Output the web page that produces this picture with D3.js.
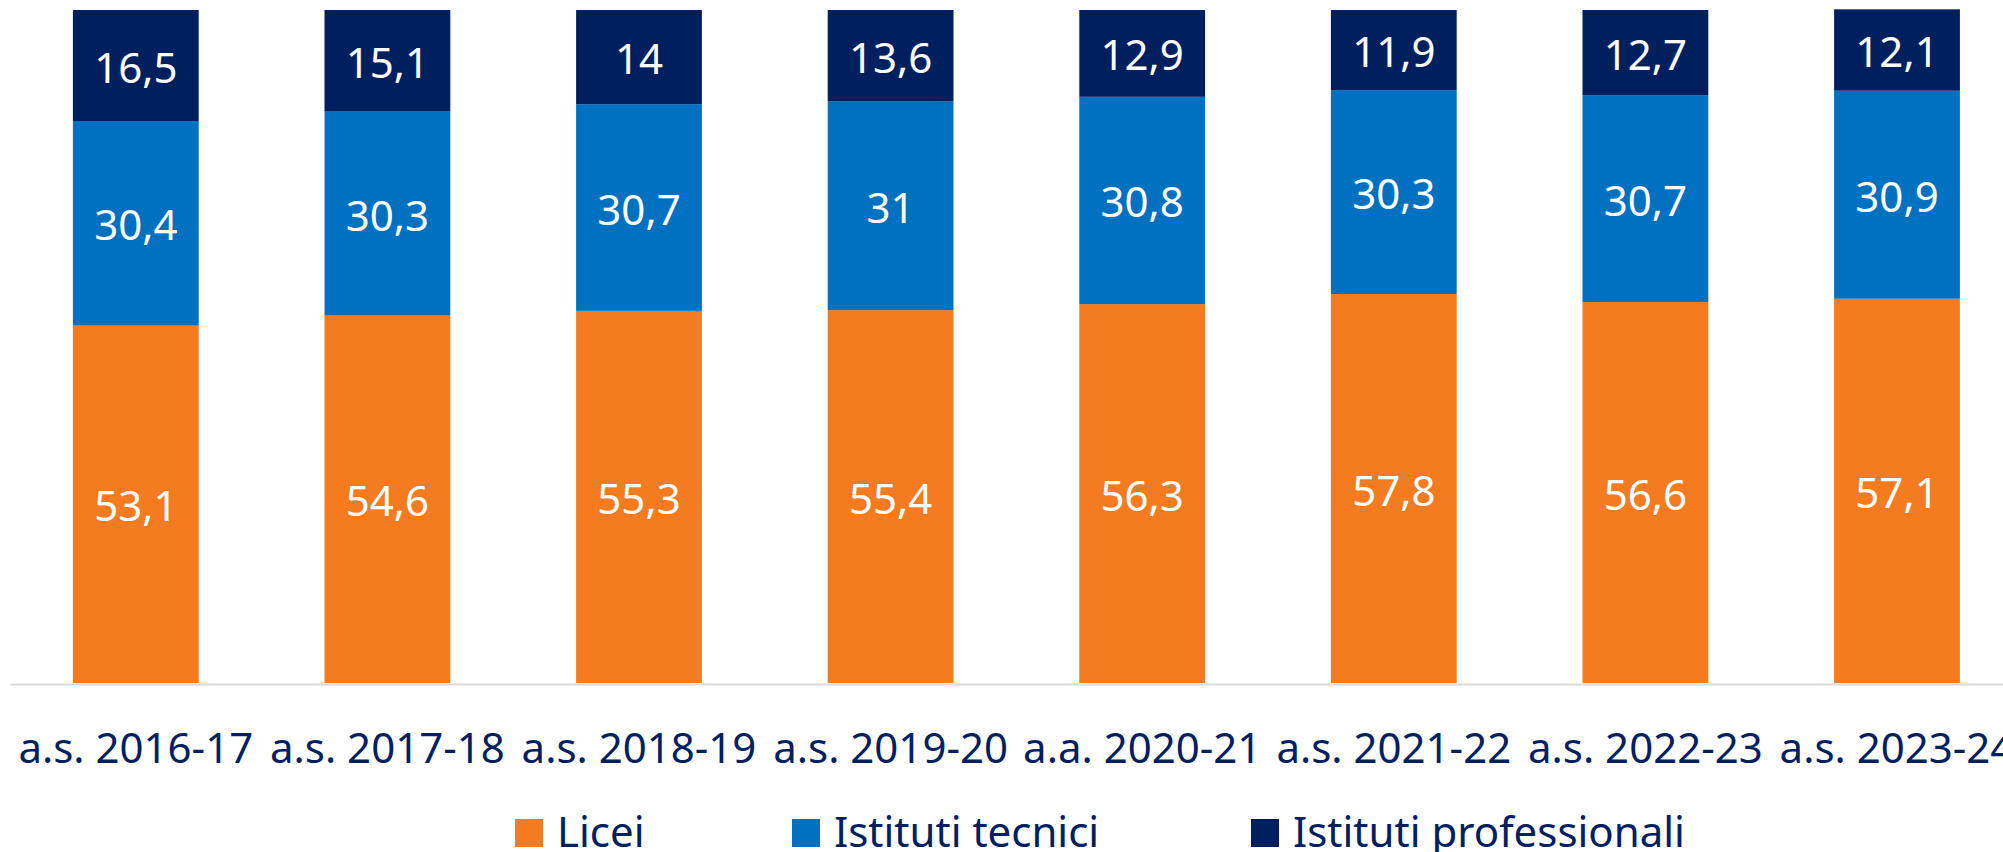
<!DOCTYPE html>
<html>
<head>
<meta charset="utf-8">
<script src="https://cdn.jsdelivr.net/npm/d3@7"></script>
<style>
  body { margin: 0; background: #fff; }
  text { font-family: "Noto Sans", sans-serif; }
</style>
</head>
<body>
<div id="chart"></div>
<script>

// data (percent of enrolments)
var categories = ["a.s. 2016-17", "a.s. 2017-18", "a.s. 2018-19", "a.s. 2019-20",
                  "a.a. 2020-21", "a.s. 2021-22", "a.s. 2022-23", "a.s. 2023-24"];
var licei = [53.1, 54.6, 55.3, 55.4, 56.3, 57.8, 56.6, 57.1];
var tecnici = [30.4, 30.3, 30.7, 31, 30.8, 30.3, 30.7, 30.9];
var professionali = [16.5, 15.1, 14, 13.6, 12.9, 11.9, 12.7, 12.1];
var seriesNames = ["Licei", "Istituti tecnici", "Istituti professionali"];

var width = 2003, height = 852;
var colors = ["#F47B20", "#0070C0", "#001F5F"];
var textColor = "#002060";
var fontSize = 42;

var svg = d3.select("#chart")
  .append("svg")
    .attr("width", width)
    .attr("height", height);

// one row per school year
var rows = categories.map(function (c, i) {
  return { cat: c, "Licei": licei[i], "Istituti tecnici": tecnici[i], "Istituti professionali": professionali[i] };
});
var stacked = d3.stack().keys(seriesNames)(rows);

// scales (plot runs past the right edge, like the original)
var x = d3.scaleBand()
  .domain(categories)
  .range([10, 10 + 251.6 * categories.length])
  .paddingInner(0.5)
  .paddingOuter(0.25);

var y = d3.scaleLinear()
  .domain([0, 100])
  .range([683, 10]);

// bars
var layer = svg.append("g")
  .selectAll("g")
  .data(stacked)
  .enter()
  .append("g")
    .attr("fill", function (d, i) { return colors[i]; });

layer.selectAll("rect")
  .data(function (d) { return d; })
  .enter()
  .append("rect")
    .attr("x", function (d) { return x(d.data.cat); })
    .attr("y", function (d) { return y(d[1]); })
    .attr("width", x.bandwidth())
    .attr("height", function (d) { return y(d[0]) - y(d[1]); });

// value labels
layer.selectAll("text")
  .data(function (d) { return d; })
  .enter()
  .append("text")
    .attr("x", function (d) { return x(d.data.cat) + x.bandwidth() / 2; })
    .attr("y", function (d) { return (y(d[0]) + y(d[1])) / 2 + 17; })
    .attr("text-anchor", "middle")
    .attr("fill", "#fff")
    .style("font-size", fontSize + "px")
    .text(function (d) { return String(+(d[1] - d[0]).toFixed(1)).replace(".", ","); });

// x axis
var xAxis = svg.append("g")
  .attr("transform", "translate(0,684)")
  .call(d3.axisBottom(x).tickSize(0).tickPadding(49));
xAxis.select(".domain")
  .attr("stroke", "#D9D9D9")
  .attr("stroke-width", 2);
xAxis.selectAll("text")
  .attr("fill", textColor)
  .style("font-family", "'Noto Sans', sans-serif")
  .style("font-size", fontSize + "px");

// legend
var legendX = [515, 792, 1251];
var legend = svg.append("g")
  .selectAll("g")
  .data(seriesNames)
  .enter()
  .append("g")
    .attr("transform", function (d, i) { return "translate(" + legendX[i] + ",819)"; });

legend.append("rect")
  .attr("width", 28)
  .attr("height", 28)
  .attr("fill", function (d, i) { return colors[i]; });

legend.append("text")
  .attr("x", 42)
  .attr("y", 28)
  .attr("fill", textColor)
  .style("font-size", fontSize + "px")
  .text(function (d) { return d; });

</script>
</body>
</html>
